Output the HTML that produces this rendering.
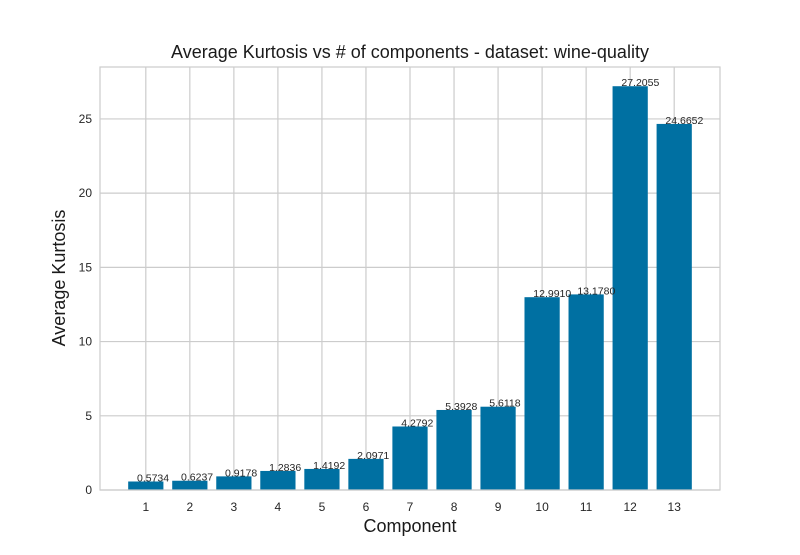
<!DOCTYPE html>
<html><head><meta charset="utf-8"><style>
body{margin:0;background:#fff;font-family:"Liberation Sans",sans-serif;}
</style></head><body>
<svg id="chart" width="800" height="550" xmlns="http://www.w3.org/2000/svg">
<rect width="800" height="550" fill="#fff"/>
<g id="grid"></g><g id="bars"></g><g id="labels"></g><g id="ticks"></g>
<rect x="100" y="67" width="620" height="423" fill="none" stroke="#cccccc" stroke-width="1.2"/>
<text x="410" y="58" font-size="18" text-anchor="middle" fill="#1a1a1a">Average Kurtosis vs # of components - dataset: wine-quality</text>
<text x="410" y="532" font-size="18" text-anchor="middle" fill="#1a1a1a">Component</text>
<text transform="translate(65,278) rotate(-90)" font-size="18" text-anchor="middle" fill="#1a1a1a">Average Kurtosis</text>
</svg>
<script>
const categories=[1,2,3,4,5,6,7,8,9,10,11,12,13];
const values=[0.5734,0.6237,0.9178,1.2836,1.4192,2.0971,4.2792,5.3928,5.6118,12.9910,13.1780,27.2055,24.6652];
const yTicks=[0,5,10,15,20,25];
const NS="http://www.w3.org/2000/svg";
const L=100,R=720,T=67,B=490;
const xMin=-0.04,xMax=14.04,yMin=0,yMax=28.5;
const xs=v=>L+(v-xMin)/(xMax-xMin)*(R-L);
const ys=v=>B-(v-yMin)/(yMax-yMin)*(B-T);
function mk(tag,attrs,parent){const e=document.createElementNS(NS,tag);for(const k in attrs)e.setAttribute(k,attrs[k]);document.getElementById(parent).appendChild(e);return e;}
yTicks.forEach(t=>{
 const g=mk('line',{x1:L,x2:R,y1:ys(t),y2:ys(t),stroke:'#cccccc','stroke-width':1.2},'grid');
 
 
 const tx=mk('text',{x:L-8,y:ys(t)+4,'font-size':12,'text-anchor':'end',fill:'#262626'},'ticks');
 tx.textContent=t;
 
 
});
categories.forEach((c,i)=>{
 const g=mk('line',{x1:xs(c),x2:xs(c),y1:T,y2:B,stroke:'#cccccc','stroke-width':1.2},'grid');
 
 
 const w=xs(0.8)-xs(0);
 const b=mk('rect',{x:xs(c-0.4),y:ys(values[i]),width:w,height:ys(0)-ys(values[i]),fill:'#0070a2'},'bars');
 
 
 const lb=mk('text',{x:xs(c-0.2),y:ys(values[i]),'font-size':10.5,fill:'#262626'},'labels');
 lb.textContent=values[i].toFixed(4);
 
 
 const tx=mk('text',{x:xs(c),y:B+21,'font-size':12,'text-anchor':'middle',fill:'#262626'},'ticks');
 tx.textContent=c;
 
 
});
</script>
</body></html>
